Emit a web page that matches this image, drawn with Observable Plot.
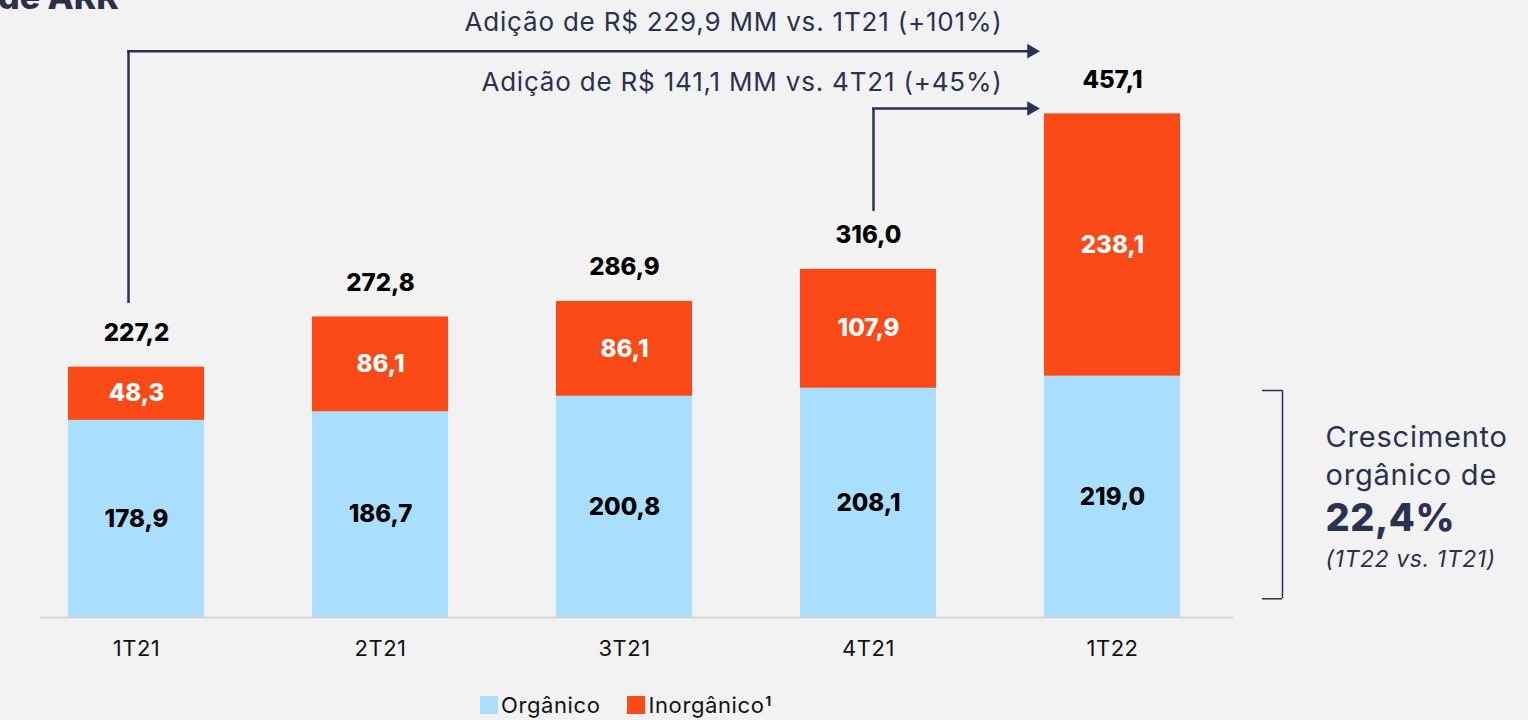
<!DOCTYPE html>
<html>
<head>
<meta charset="utf-8">
<script src="https://cdn.jsdelivr.net/npm/d3@7"></script>
<script src="https://cdn.jsdelivr.net/npm/@observablehq/plot@0.6"></script>
<style>
  html, body { margin: 0; padding: 0; background: #f2f2f2; }
  body { width: 1528px; height: 720px; overflow: hidden; position: relative; font-family: Inter, "Noto Sans", sans-serif; }
  #title { position: absolute; left: -2px; top: -24px; font-size: 34px; font-weight: 800; color: #2b3048; white-space: nowrap; }
  #chart { position: absolute; left: 0; top: 0; }
  #legend { position: absolute; left: 480px; top: 692px; display: flex; align-items: center; font-size: 22px; letter-spacing: 0.6px; color: #111; }
  .sw { width: 18px; height: 18px; display: inline-block; margin-right: 3px; }
  .item { display: flex; align-items: center; margin-right: 27px; }
</style>
</head>
<body>
<div id="title">de ARR</div>
<div id="chart"></div>
<div id="legend"></div>
<script>
// ---- data ----
const quarters = ["1T21", "2T21", "3T21", "4T21", "1T22"];
const organico = [178.9, 186.7, 200.8, 208.1, 219.0];
const inorganico = [48.3, 86.1, 86.1, 107.9, 238.1];
const totals = [227.2, 272.8, 286.9, 316.0, 457.1];
const seriesNames = ["Orgânico", "Inorgânico"];
const seriesColors = ["#a9dffd", "#fc4918"];
const legendLabels = ["Orgânico", "Inorgânico<sup style='font-size:13px;font-weight:700;position:relative;top:-4px;margin-left:1px'>1</sup>"];

const annotTop = ["Adição de R$ 229,9 MM vs. 1T21 (+101%)", "Adição de R$ 141,1 MM vs. 4T21 (+45%)"];
const annotFrom = ["1T21", "4T21"];
const annotTo = "1T22";
const annotLevels = [514, 462];      // arrow heights (value units)
const annotStarts = [285, 368.5];    // where vertical stems start (value units)
const annotTextLevels = [540, 485];  // text heights (value units)
const stemOffsets = [-8, 5];         // stem offset from bar centre (px)
const growthLines = ["Crescimento", "orgânico de", "22,4%", "(1T22 vs. 1T21)"];
const growthLevels = [163, 128.5, 89.5, 52.5];
const growthSizes = [29, 29, 38, 23];
const growthSpacing = [0.8, 0.8, 0.5, 0.6];
const bracketRange = [17, 206];

const fmt = v => v.toFixed(1).replace(".", ",");
const navy = "#2b3150";

const rows = [];
quarters.forEach((q, i) => {
  rows.push({q, type: seriesNames[0], v: organico[i]});
  rows.push({q, type: seriesNames[1], v: inorganico[i]});
});
const totalRows = quarters.map((q, i) => ({q, v: totals[i]}));
const arrows = annotFrom.map((f, i) => ({from: f, to: annotTo, y: annotLevels[i], y0: annotStarts[i], text: annotTop[i], ty: annotTextLevels[i], off: stemOffsets[i]}));
const growth = growthLines.map((t, i) => ({t, y: growthLevels[i], size: growthSizes[i], i}));

const font = "Inter, 'Noto Sans', sans-serif";

const arrowMarks = arrows.flatMap(a => [
  Plot.ruleX([a], {x: "from", y1: "y0", y2: "y", dx: a.off, stroke: navy, strokeWidth: 2.5}),
  Plot.ruleY([a], {y: "y", x1: "from", x2: "to", insetLeft: 68 + a.off - 1, insetRight: 152, stroke: navy, strokeWidth: 2.5})
]);

const chart = Plot.plot({
  width: 1528,
  height: 680,
  marginLeft: 40,
  marginRight: 295,
  marginTop: 0,
  marginBottom: 63,
  style: {background: "transparent", fontFamily: font, overflow: "visible"},
  x: {domain: quarters, paddingInner: 0.444, paddingOuter: 0.1617, align: 0.341, label: null},
  y: {domain: [0, 560], axis: null},
  color: {domain: seriesNames, range: seriesColors},
  marks: [
    Plot.barY(rows, {x: "q", y: "v", fill: "type"}),
    Plot.ruleY([0], {stroke: "#d6d6d6", strokeWidth: 2}),
    Plot.axisX({tickSize: 0, tickPadding: 23, fontSize: 22, fill: "#111", label: null}),
    Plot.text(rows, Plot.stackY({x: "q", y: "v", text: d => d.type === seriesNames[0] ? fmt(d.v) : "", fill: "#000", fontSize: 24, fontWeight: 800})),
    Plot.text(rows, Plot.stackY({x: "q", y: "v", text: d => d.type === seriesNames[1] ? fmt(d.v) : "", fill: "#fff", fontSize: 24, fontWeight: 800})),
    Plot.text(totalRows, {x: "q", y: "v", text: d => fmt(d.v), dy: -34, fill: "#000", fontSize: 24, fontWeight: 800}),
    // arrows
    ...arrowMarks,
    Plot.dot(arrows, {x: "to", y: "y", symbol: "triangle2", rotate: 90, r: 7, fill: navy, dx: -81}),
    Plot.text(arrows, {x: "to", y: "ty", text: "text", textAnchor: "end", dx: -110, fill: navy, fontSize: 26}),
    // bracket + growth note
    Plot.ruleX([bracketRange], {x: () => annotTo, y1: d => d[0], y2: d => d[1], dx: 170, stroke: navy, strokeWidth: 1.5}),
    Plot.ruleY(bracketRange, {y: d => d, x1: () => annotTo, x2: () => annotTo, dx: 218, insetRight: 116, stroke: navy, strokeWidth: 1.5}),
    Plot.text(growth, {x: () => annotTo, y: "y", text: "t", textAnchor: "start", dx: 213, fill: navy, fontSize: 28})
  ]
});
document.getElementById("chart").appendChild(chart);

// style individual texts
Array.from(chart.querySelectorAll("text")).forEach(t => {
  const c = t.textContent;
  const i = growthLines.indexOf(c);
  if (i >= 0) {
    t.setAttribute("font-size", growthSizes[i]);
    t.setAttribute("letter-spacing", growthSpacing[i]);
    if (i === 2) t.setAttribute("font-weight", 800);
    if (i === 3) t.setAttribute("font-style", "italic");
  }
  if (annotTop.includes(c)) t.setAttribute("letter-spacing", "0.8");
  if (quarters.includes(c)) t.setAttribute("letter-spacing", "0.5");
});

const legend = document.getElementById("legend");
seriesNames.forEach((s, i) => {
  const item = document.createElement("span");
  item.className = "item";
  item.innerHTML = `<span class="sw" style="background:${seriesColors[i]}"></span>${legendLabels[i]}`;
  legend.appendChild(item);
});
</script>
</body>
</html>
